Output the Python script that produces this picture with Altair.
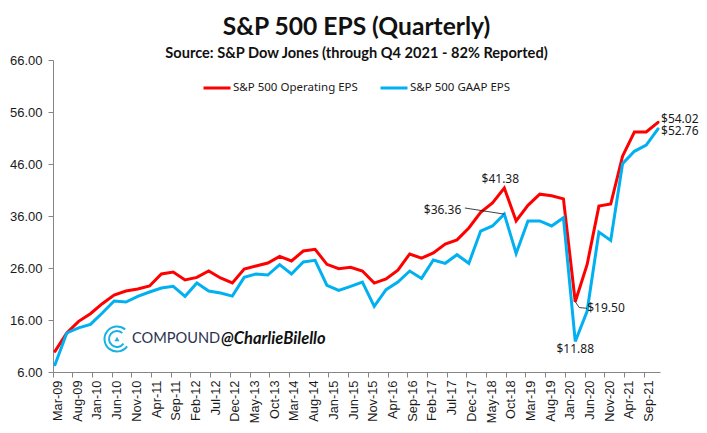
import altair as alt
import pandas as pd

MN = ["Jan","Feb","Mar","Apr","May","Jun","Jul","Aug","Sep","Oct","Nov","Dec"]
months = [f"{MN[(m-1)%12]}-{9+(m-1)//12:02d}" for m in range(3, 3+154)]
tick_labels = months[::5]
quarters = months[::3]

operating = [9.97,13.5,15.74,17.2,19.14,20.8,21.58,21.96,22.54,24.85,25.23,23.69,24.2,25.42,24.08,23.12,
             25.8,26.38,26.96,28.24,27.35,29.27,29.59,26.7,25.87,26.13,25.42,23.1,23.88,25.6,28.7,27.9,
             28.9,30.6,31.4,33.7,36.7,38.5,41.38,35.04,38.05,40.2,39.9,39.3,19.5,26.64,37.9,38.3,
             47.5,52.15,52.15,54.02]
gaap = [7.4,13.5,14.5,15.17,17.35,19.65,19.46,20.55,21.38,22.15,22.47,20.55,23.12,21.58,21.19,20.6,
        24.2,24.85,24.65,26.64,24.85,27.15,27.47,22.67,21.7,22.47,23.3,18.63,21.83,23.3,25.42,24.0,
        27.54,26.9,28.56,26.9,33.1,34.08,36.36,28.8,35.04,35.04,34.08,35.68,11.88,17.67,32.9,31.3,
        46.06,48.44,49.65,52.76]

OP = "S&P 500 Operating EPS"
GA = "S&P 500 GAAP EPS"
df = pd.DataFrame({"month": quarters*2, "eps": operating+gaap, "series": [OP]*len(quarters)+[GA]*len(quarters)})

xs = alt.X("month:N", sort=months,
           scale=alt.Scale(type="band", domain=months, paddingInner=0, paddingOuter=0),
           axis=alt.Axis(values=tick_labels, bandPosition=0, labelAngle=270, labelAlign="right", labelBaseline="middle",
                         labelOffset=3, labelPadding=3, labelFont="Liberation Sans", labelFontSize=12.8, labelColor="#1a1a1a",
                         tickSize=5, tickColor="#868686", domainColor="#868686", title=None, grid=False, labelOverlap=False))
ys = alt.Y("eps:Q", scale=alt.Scale(domain=[6, 66], nice=False, zero=False),
           axis=alt.Axis(values=[6,16,26,36,46,56,66], format=".2f", labelFont="Liberation Sans", labelFontSize=13,
                         labelColor="#1a1a1a", labelPadding=6, tickSize=5, tickColor="#868686", domainColor="#868686",
                         title=None, grid=False))

lines = alt.Chart(df).mark_line(strokeWidth=3, strokeCap="round", strokeJoin="miter", clip=False).encode(
    x=xs, y=ys,
    color=alt.Color("series:N", sort=[OP, GA], scale=alt.Scale(domain=[OP, GA], range=["#ff0000", "#00b0f0"]),
                    legend=alt.Legend(orient="none", legendX=149, legendY=13, direction="horizontal", columns=2, title=None,
                                      symbolType="stroke", symbolStrokeWidth=3, symbolSize=729, labelFont="Noto Sans",
                                      labelFontSize=11.5, labelColor="#1a1a1a", columnPadding=16, labelOffset=1, labelLimit=200)),
    order=alt.Order("sseries:Q"),
).transform_calculate(sseries=f"datum.series=='{OP}'?1:0")

def label(month, value, text, dx, dy, align="left"):
    d = pd.DataFrame({"month":[month],"eps":[value],"t":[text]})
    return alt.Chart(d).mark_text(font="Noto Sans", fontSize=12, color="#1a1a1a", align=align, baseline="middle", dx=dx, dy=dy).encode(
        x=xs, y=ys, text="t:N")

labels = [
    label("Dec-21", 54.02, "$54.02", 3, -3),
    label("Dec-21", 52.76, "$52.76", 3, 2),
    label("Sep-18", 41.38, "$41.38", -4, -9, "center"),
    label("Sep-18", 36.36, "$36.36", -43, -4, "right"),
    label("Mar-20", 19.5, "$19.50", 12, 6),
    label("Mar-20", 11.88, "$11.88", 0, 8, "center"),
]

lead1 = alt.Chart(pd.DataFrame({"month":["Nov-17","Sep-18"],"eps":[37.54,36.36]})).mark_line(color="#111111", strokeWidth=0.8).encode(x=xs, y=ys)
lead2 = alt.Chart(pd.DataFrame({"month":["Mar-20","Apr-20","Jun-20"],"eps":[19.5,18.4,18.25]})).mark_line(color="#111111", strokeWidth=0.8).encode(x=xs, y=ys)

one = pd.DataFrame({"a":[1]})
def arc(r, t1, t2):
    return alt.Chart(one).mark_arc(innerRadius=r-1, outerRadius=r+1, theta=t1, theta2=t2, color="#1bb1e7").encode(
        x=alt.value(64), y=alt.value(279))
logo = [arc(12.5, 2.2, 7.0), arc(8, 2.2, 7.0)]
tri = alt.Chart(one).mark_point(shape="triangle-up", filled=True, size=26, color="#1bb1e7", opacity=1).encode(x=alt.value(64), y=alt.value(279))
comp = alt.Chart(pd.DataFrame({"t":["COMPOUND"]})).mark_text(font="Lato", fontSize=14.6, color="#2b3350", align="left", baseline="middle").encode(
    x=alt.value(79), y=alt.value(279), text="t:N")
handle = alt.Chart(pd.DataFrame({"t":["@CharlieBilello"]})).mark_text(font="Lato", fontStyle="italic", fontWeight="bold", fontSize=16.5, color="#111111", align="left", baseline="middle").encode(
    x=alt.value(168), y=alt.value(279), text="t:N")

chart = alt.layer(lines, lead1, lead2, *labels, *logo, tri, comp, handle).properties(
    width=607, height=312,
    background="white",
    padding={"left":45,"top":52,"right":39,"bottom":53},
    autosize=alt.AutoSizeParams(type="none"),
    title=alt.TitleParams(text="S&P 500 EPS (Quarterly)", subtitle="Source: S&P Dow Jones (through Q4 2021 - 82% Reported)",
                          anchor="middle", offset=-8, font="Lato", fontSize=24.6, fontWeight="bold", color="#111111",
                          subtitleFont="Lato", subtitleFontSize=14.6, subtitleFontWeight="bold", subtitleColor="#111111", subtitlePadding=6),
).configure_view(strokeWidth=0, strokeOpacity=0)

chart.save("out.html", embed_options={"renderer": "svg", "actions": False})
